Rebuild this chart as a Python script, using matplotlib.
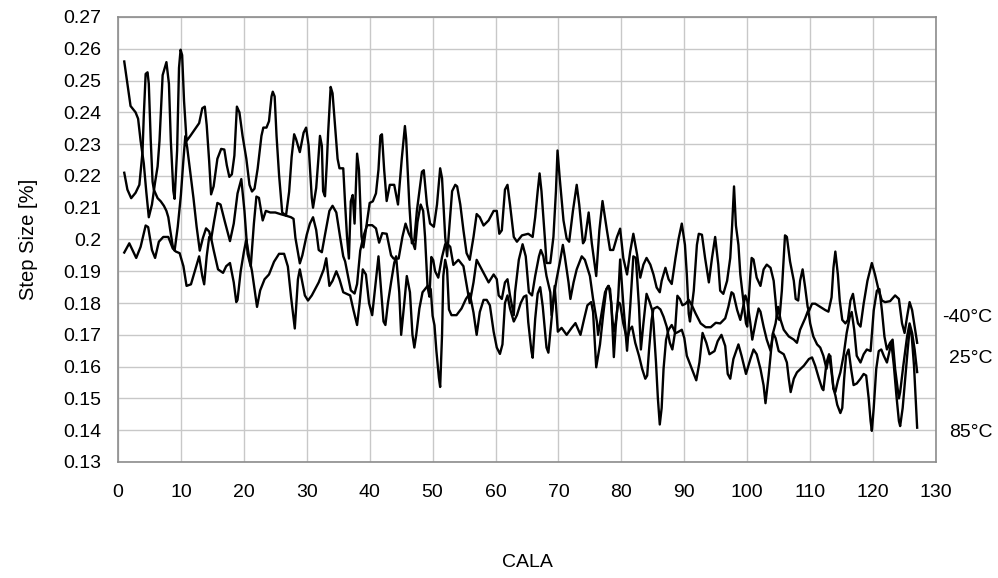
import numpy as np
import matplotlib
matplotlib.use("Agg")
import matplotlib.pyplot as plt

plt.rcParams['font.family'] = ['Liberation Sans', 'DejaVu Sans']

# (CALA, step size %) pairs
minus40 = [(1.0,0.256),(1.5,0.249),(2.0,0.242),(2.8,0.240),(3.2,0.238),(3.6,0.231),(4.1,0.224),(4.5,0.215),(4.9,0.207),(5.4,0.211),(5.9,0.218),(6.3,0.223),(6.6,0.231),(7.1,0.2517),(7.7,0.2558),(8.1,0.249),(8.4,0.231),(8.8,0.2153),(9.0,0.2128),(9.4,0.228),(9.7,0.254),(9.95,0.2597),(10.2,0.258),(10.5,0.2436),(10.9,0.231),(11.5,0.2326),(12.2,0.2346),(12.9,0.2366),(13.4,0.2413),(13.8,0.2418),(14.1,0.236),(14.5,0.2244),(14.8,0.2142),(15.2,0.2167),(15.8,0.2254),(16.4,0.2285),(16.9,0.2283),(17.3,0.2233),(17.7,0.2197),(18.1,0.2205),(18.5,0.2264),(18.9,0.2418),(19.3,0.240),(19.8,0.2326),(20.4,0.2254),(20.9,0.2172),(21.3,0.2151),(21.7,0.2160),(22.2,0.2223),(22.8,0.2326),(23.1,0.2352),(23.6,0.2352),(24.0,0.2372),(24.4,0.245),(24.6,0.2465),(24.9,0.245),(25.2,0.2326),(25.6,0.2203),(26.1,0.2085),(26.7,0.2075),(27.2,0.215),(27.6,0.226),(28.0,0.2331),(28.3,0.2316),(28.9,0.2275),(29.5,0.2336),(29.9,0.2352),(30.3,0.2295),(30.8,0.2131),(31.0,0.210),(31.5,0.2162),(31.85,0.2254),(32.1,0.2326),(32.4,0.2295),(32.6,0.2152),(32.9,0.2136),(33.2,0.2244),(33.4,0.2336),(33.8,0.248),(34.1,0.246),(34.5,0.2357),(34.9,0.2254),(35.2,0.2224),(35.8,0.2224),(36.1,0.2111),(36.4,0.2008),(36.7,0.194),(37.0,0.212),(37.3,0.214),(37.6,0.205),(38.0,0.227),(38.3,0.222),(38.7,0.201),(39.0,0.1975),(39.5,0.2045),(40.0,0.2115),(40.5,0.212),(41.0,0.2145),(41.4,0.222),(41.7,0.2326),(41.95,0.2331),(42.3,0.222),(42.7,0.2121),(43.2,0.2172),(43.9,0.2172),(44.5,0.211),(45.1,0.2254),(45.6,0.2357),(45.8,0.2316),(46.3,0.211),(46.7,0.1988),(47.1,0.2),(47.5,0.209),(48.3,0.2213),(48.6,0.2218),(49.1,0.211),(49.6,0.205),(50.2,0.204),(50.7,0.211),(51.2,0.2224),(51.5,0.2193),(52.0,0.2008),(52.3,0.1947),(53.1,0.2152),(53.6,0.2172),(53.9,0.2167),(54.4,0.211),(54.9,0.2029),(55.4,0.1957),(55.9,0.1936),(56.5,0.2008),(57.0,0.208),(57.5,0.207),(58.1,0.2044),(58.9,0.206),(59.7,0.209),(60.2,0.209),(60.6,0.2018),(61.0,0.2029),(61.5,0.2157),(61.9,0.2172),(62.3,0.211),(62.9,0.2008),(63.4,0.1993),(64.2,0.2013),(65.2,0.2018),(65.9,0.2008),(66.3,0.207),(66.7,0.2152),(67.0,0.2208),(67.3,0.2152),(67.9,0.1988),(68.1,0.1926),(68.7,0.1926),(69.2,0.2008),(69.6,0.2152),(69.85,0.228),(70.2,0.2193),(70.8,0.206),(71.3,0.2003),(71.7,0.1993),(72.3,0.209),(72.9,0.2172),(73.3,0.211),(73.9,0.1988),(74.2,0.1998),(74.8,0.2085),(75.3,0.1988),(76.0,0.1885),(76.5,0.2029),(77.0,0.2121),(77.7,0.2029),(78.2,0.1967),(78.7,0.1967),(79.3,0.2008),(79.8,0.2034),(80.3,0.1942),(80.9,0.189),(81.4,0.1962),(81.9,0.2018),(82.5,0.1952),(83.0,0.188),(83.5,0.1921),(84.0,0.1942),(84.6,0.1921),(85.1,0.189),(85.6,0.1849),(86.1,0.1834),(86.4,0.187),(87.0,0.1911),(87.5,0.1875),(88.0,0.186),(88.6,0.1942),(89.1,0.2003),(89.6,0.205),(90.1,0.1983),(90.4,0.189),(90.7,0.1767),(90.9,0.1742),(91.5,0.1839),(92.0,0.1983),(92.3,0.2018),(92.8,0.2015),(93.3,0.1942),(93.9,0.1865),(94.4,0.1942),(94.9,0.2008),(95.4,0.1921),(95.7,0.1839),(96.2,0.1829),(96.8,0.187),(97.3,0.1942),(97.6,0.2044),(97.9,0.2167),(98.2,0.2044),(98.6,0.1983),(98.9,0.189),(99.2,0.1839),(99.5,0.1788),(99.8,0.1736),(100.0,0.1726),(100.2,0.1798),(100.5,0.189),(100.7,0.1942),(101.0,0.1937),(101.5,0.188),(102.1,0.1854),(102.6,0.1906),(103.1,0.1921),(103.7,0.1911),(104.2,0.187),(104.5,0.1808),(104.7,0.1757),(105.1,0.1747),(105.5,0.1839),(105.8,0.1942),(106.0,0.2013),(106.3,0.2008),(106.8,0.1931),(107.4,0.187),(107.7,0.1813),(108.1,0.1808),(108.4,0.187),(108.8,0.1906),(109.2,0.185),(109.6,0.1788),(109.8,0.1775),(110.3,0.1798),(110.8,0.1798),(111.6,0.1788),(112.4,0.1778),(112.9,0.1773),(113.4,0.1818),(113.7,0.1911),(114.0,0.1962),(114.4,0.189),(114.7,0.1808),(115.1,0.1747),(115.6,0.1736),(116.0,0.1747),(116.4,0.1808),(116.8,0.1829),(117.2,0.1777),(117.6,0.1736),(118.0,0.1726),(118.5,0.1798),(119.1,0.187),(119.8,0.1926),(120.3,0.189),(120.9,0.1839),(121.4,0.1808),(121.9,0.1803),(122.7,0.1806),(123.5,0.1824),(124.1,0.1813),(124.6,0.1736),(125.0,0.1706),(125.4,0.1757),(125.8,0.1803),(126.2,0.1778),(126.6,0.1726),(127.0,0.1675)]

plus25 = [(1.0,0.221),(1.5,0.2157),(2.1,0.213),(2.8,0.2147),(3.4,0.2172),(3.9,0.2275),(4.1,0.2388),(4.4,0.2521),(4.7,0.2526),(4.9,0.249),(5.2,0.2316),(5.5,0.2182),(5.7,0.2157),(6.3,0.213),(6.8,0.212),(7.3,0.2106),(7.7,0.209),(8.0,0.207),(8.3,0.203),(8.7,0.198),(9.0,0.1965),(9.5,0.204),(10.0,0.214),(10.4,0.225),(10.7,0.2325),(11.0,0.229),(11.5,0.221),(12.0,0.213),(12.5,0.204),(13.0,0.1965),(13.5,0.2005),(14.0,0.2035),(14.5,0.2025),(14.8,0.200),(15.3,0.206),(15.8,0.2115),(16.3,0.211),(17.0,0.2055),(17.8,0.1995),(18.4,0.205),(19.0,0.2145),(19.6,0.219),(20.1,0.209),(20.6,0.1955),(21.1,0.1915),(21.6,0.205),(22.0,0.2135),(22.4,0.2131),(23.0,0.206),(23.5,0.209),(24.2,0.2085),(25.0,0.2085),(25.8,0.208),(26.7,0.2075),(27.5,0.207),(27.9,0.2065),(28.2,0.2005),(28.9,0.1925),(29.3,0.195),(30.0,0.2015),(30.5,0.205),(31.0,0.207),(31.5,0.203),(31.9,0.1967),(32.4,0.196),(32.9,0.2015),(33.6,0.209),(34.1,0.2106),(34.7,0.2085),(35.3,0.2008),(35.8,0.1947),(36.1,0.1931),(36.6,0.188),(37.0,0.184),(37.6,0.183),(38.0,0.186),(38.5,0.1965),(39.0,0.201),(39.6,0.2045),(40.4,0.2045),(41.0,0.2035),(41.5,0.199),(42.0,0.202),(42.7,0.2018),(43.4,0.195),(43.8,0.194),(44.6,0.194),(45.2,0.2008),(45.7,0.205),(46.2,0.202),(46.7,0.200),(47.2,0.197),(47.6,0.2055),(48.1,0.211),(48.5,0.209),(48.8,0.2008),(49.2,0.185),(49.5,0.182),(49.8,0.1945),(50.1,0.1935),(50.4,0.190),(50.9,0.188),(51.5,0.1945),(52.0,0.1985),(52.5,0.1983),(52.8,0.1977),(53.3,0.192),(54.1,0.1936),(54.9,0.1916),(55.7,0.1824),(55.9,0.180),(56.5,0.1865),(57.0,0.1936),(57.8,0.1906),(58.9,0.1865),(59.7,0.189),(60.2,0.1875),(60.5,0.1824),(61.0,0.1813),(61.5,0.1865),(61.9,0.1875),(62.3,0.1824),(62.9,0.1762),(63.1,0.1834),(63.7,0.1936),(64.3,0.1985),(64.8,0.1947),(65.3,0.1834),(65.8,0.1824),(66.3,0.1885),(66.9,0.1947),(67.2,0.1967),(67.6,0.1947),(68.1,0.1885),(68.7,0.1834),(68.9,0.1762),(69.3,0.1824),(69.7,0.1875),(70.2,0.1926),(70.7,0.1983),(71.0,0.1947),(71.6,0.1865),(71.9,0.1813),(72.4,0.1865),(72.9,0.1906),(73.7,0.1947),(74.2,0.1936),(75.0,0.1885),(75.5,0.1813),(76.1,0.1742),(76.3,0.170),(76.8,0.1762),(77.4,0.1834),(77.9,0.1854),(78.2,0.1844),(78.6,0.1742),(78.8,0.1711),(79.1,0.174),(79.5,0.1803),(79.8,0.1798),(80.3,0.1736),(80.9,0.1685),(81.3,0.1716),(81.7,0.1726),(82.2,0.1675),(82.8,0.1634),(83.3,0.1593),(83.8,0.1562),(84.1,0.1572),(84.4,0.1654),(84.8,0.1747),(85.1,0.1782),(85.7,0.1788),(86.2,0.178),(86.7,0.1757),(87.2,0.1726),(87.7,0.1675),(88.1,0.1654),(88.5,0.1705),(88.9,0.1823),(89.3,0.1813),(89.7,0.1793),(90.2,0.1798),(90.7,0.181),(91.2,0.1793),(91.8,0.1767),(92.6,0.1736),(93.4,0.1724),(94.2,0.1724),(95.0,0.1738),(95.7,0.1736),(96.5,0.1752),(97.0,0.1788),(97.5,0.1834),(97.8,0.1829),(98.4,0.1778),(98.9,0.1747),(99.4,0.1793),(99.7,0.1824),(100.0,0.1808),(100.2,0.1778),(100.5,0.1736),(100.8,0.1685),(101.0,0.1706),(101.4,0.1747),(101.8,0.1783),(102.1,0.1773),(102.6,0.1726),(103.1,0.1685),(103.7,0.165),(104.1,0.1706),(104.5,0.1736),(104.9,0.1788),(105.3,0.1747),(105.8,0.1716),(106.6,0.1695),(107.4,0.1685),(107.9,0.1675),(108.4,0.1716),(109.2,0.1752),(109.7,0.1778),(110.0,0.1736),(110.5,0.1695),(111.1,0.167),(111.6,0.166),(112.1,0.1634),(112.6,0.1593),(112.9,0.1624),(113.2,0.1634),(113.5,0.1572),(113.7,0.1531),(114.0,0.151),(114.3,0.148),(114.8,0.1454),(115.1,0.147),(115.4,0.1562),(115.7,0.1634),(116.1,0.1654),(116.5,0.1593),(116.9,0.1542),(117.4,0.1547),(118.0,0.1562),(118.5,0.1577),(118.9,0.1572),(119.3,0.15),(119.6,0.1429),(119.8,0.1398),(120.1,0.147),(120.5,0.1593),(120.9,0.1649),(121.3,0.1654),(121.7,0.1634),(122.2,0.1613),(122.6,0.1649),(122.9,0.1675),(123.3,0.1603),(123.7,0.151),(124.1,0.1429),(124.3,0.1413),(124.7,0.147),(125.1,0.1562),(125.5,0.1654),(125.8,0.1716),(126.1,0.1706),(126.5,0.1603),(127.0,0.1408)]

plus85 = [(1.0,0.1959),(1.8,0.1988),(2.3,0.1967),(2.9,0.1942),(3.6,0.1977),(4.4,0.2044),(4.8,0.2039),(5.4,0.1967),(5.9,0.1942),(6.5,0.1993),(7.2,0.2008),(8.0,0.2008),(8.7,0.1972),(9.2,0.1962),(9.8,0.1957),(10.4,0.1916),(10.9,0.1854),(11.6,0.1859),(12.3,0.1906),(12.9,0.1947),(13.4,0.1885),(13.7,0.1859),(14.1,0.1947),(14.5,0.2008),(14.8,0.2005),(15.2,0.1967),(15.9,0.1906),(16.7,0.1895),(17.2,0.1916),(17.8,0.1926),(18.4,0.1865),(18.8,0.1803),(19.0,0.181),(19.5,0.190),(20.0,0.196),(20.4,0.2),(20.8,0.195),(21.3,0.19),(21.8,0.183),(22.1,0.1788),(22.6,0.184),(23.3,0.1875),(24.0,0.189),(24.8,0.193),(25.6,0.1955),(26.4,0.1955),(27.0,0.1915),(27.5,0.182),(28.1,0.172),(28.6,0.1875),(28.9,0.1906),(29.7,0.1824),(30.2,0.1808),(30.8,0.1824),(31.9,0.1865),(32.7,0.1906),(33.1,0.1941),(33.6,0.1854),(34.1,0.187),(34.7,0.19),(35.2,0.1875),(35.8,0.1834),(36.9,0.1824),(37.4,0.178),(38.0,0.1731),(38.4,0.180),(38.9,0.1906),(39.4,0.189),(39.9,0.180),(40.4,0.1762),(40.9,0.1855),(41.4,0.1947),(41.9,0.182),(42.2,0.1742),(42.5,0.1731),(42.9,0.180),(43.4,0.1865),(43.9,0.1926),(44.2,0.1947),(44.7,0.1834),(45.0,0.170),(45.5,0.180),(45.9,0.1885),(46.4,0.1834),(46.8,0.170),(47.1,0.166),(47.4,0.170),(47.9,0.1783),(48.4,0.1834),(49.2,0.1854),(49.7,0.1844),(50.0,0.176),(50.3,0.173),(50.6,0.165),(51.0,0.1565),(51.2,0.1536),(51.5,0.170),(51.7,0.1885),(52.0,0.1936),(52.3,0.1906),(52.6,0.178),(53.0,0.1762),(53.8,0.1762),(54.6,0.1783),(55.3,0.1813),(55.9,0.183),(56.5,0.177),(57.0,0.170),(57.5,0.1772),(58.1,0.181),(58.6,0.181),(59.1,0.1793),(59.7,0.171),(60.2,0.1660),(60.7,0.164),(61.1,0.167),(61.5,0.180),(61.9,0.1824),(62.3,0.1783),(62.9,0.1742),(63.4,0.1762),(64.0,0.180),(64.5,0.182),(64.9,0.1824),(65.2,0.174),(65.7,0.165),(65.9,0.1628),(66.3,0.175),(66.7,0.183),(67.1,0.185),(67.5,0.179),(68.1,0.166),(68.4,0.1644),(68.9,0.175),(69.4,0.1854),(69.9,0.171),(70.5,0.1722),(71.3,0.170),(72.1,0.1722),(72.7,0.1737),(73.5,0.170),(74.1,0.1752),(74.6,0.1793),(75.2,0.1803),(75.5,0.1772),(76.0,0.1598),(76.6,0.1670),(77.1,0.1762),(77.6,0.1844),(78.0,0.1854),(78.4,0.180),(78.8,0.163),(79.1,0.1726),(79.5,0.182),(79.8,0.1937),(80.3,0.1798),(80.9,0.165),(81.4,0.1788),(81.9,0.1947),(82.3,0.1942),(82.8,0.1788),(83.1,0.1654),(83.5,0.1736),(84.0,0.1829),(84.5,0.1803),(84.9,0.1777),(85.1,0.1736),(85.5,0.1613),(85.8,0.150),(86.1,0.1418),(86.4,0.147),(86.7,0.1593),(87.1,0.1685),(87.5,0.1716),(88.0,0.1731),(88.6,0.1705),(89.1,0.171),(89.6,0.1716),(90.0,0.169),(90.4,0.1634),(91.2,0.1593),(91.9,0.1557),(92.4,0.1613),(92.9,0.1706),(93.5,0.1675),(94.0,0.1639),(94.8,0.1649),(95.3,0.168),(95.9,0.170),(96.5,0.1665),(96.9,0.1577),(97.3,0.1562),(97.8,0.1624),(98.6,0.167),(99.1,0.1634),(99.8,0.1577),(100.5,0.1624),(101.0,0.1654),(101.5,0.1639),(102.1,0.1593),(102.6,0.1541),(102.9,0.1485),(103.4,0.1572),(103.8,0.1654),(104.1,0.1706),(104.5,0.169),(105.0,0.1649),(105.8,0.1639),(106.3,0.1613),(106.6,0.1562),(106.9,0.152),(107.4,0.1562),(107.9,0.1582),(109.0,0.1603),(109.8,0.1624),(110.3,0.1629),(110.8,0.1603),(111.4,0.1562),(111.9,0.1531),(112.1,0.1526),(112.6,0.1613),(113.0,0.1639),(113.4,0.1582),(113.7,0.1531),(114.0,0.152),(114.4,0.1555),(114.8,0.1582),(115.3,0.1634),(115.8,0.1706),(116.3,0.1757),(116.6,0.1772),(117.0,0.1716),(117.4,0.1634),(118.0,0.1613),(118.5,0.1639),(119.0,0.1654),(119.6,0.1649),(120.1,0.1777),(120.6,0.1839),(121.0,0.1844),(121.4,0.1777),(121.8,0.1695),(122.2,0.1654),(122.7,0.1675),(123.1,0.1685),(123.5,0.1593),(124.1,0.150),(124.3,0.152),(124.8,0.1603),(125.4,0.1695),(125.8,0.1736),(126.2,0.1706),(126.6,0.1654),(127.0,0.1583)]

series_labels = ['-40°C', '25°C', '85°C']
label_y = [0.1756, 0.1627, 0.1392]

x_ticks = np.arange(0, 131, 10)
y_ticks = np.round(np.arange(0.13, 0.2701, 0.01), 2)

fig = plt.figure(figsize=(9.98, 5.78), dpi=100)
ax = fig.add_axes([0.1182, 0.2007, 0.8197, 0.7699])

for s in [minus40, plus25, plus85]:
    xs, ys = np.array(s).T
    ax.plot(xs, ys, color='black', lw=1.7, solid_joinstyle='round')

ax.set_xlim(0, 130)
ax.set_ylim(0.13, 0.27)
ax.set_xticks(x_ticks)
ax.set_yticks(y_ticks)
ax.set_yticklabels([f'{v:g}' for v in y_ticks])
ax.tick_params(length=0, labelsize=14)
ax.tick_params(axis='x', pad=16)
ax.tick_params(axis='y', pad=12)
ax.grid(True, color='#c8c8c8', lw=1)
ax.set_axisbelow(True)
for sp in ax.spines.values():
    sp.set_color('#8c8c8c')
    sp.set_linewidth(1.2)

ax.set_xlabel('CALA', fontsize=14, labelpad=38)
ax.set_ylabel('Step Size [%]', fontsize=14.5, labelpad=18)

for lab, yv in zip(series_labels, label_y):
    ax.text(139, yv, lab, ha='right', va='center', fontsize=14, clip_on=False)

fig.savefig('out.png', dpi=100)
